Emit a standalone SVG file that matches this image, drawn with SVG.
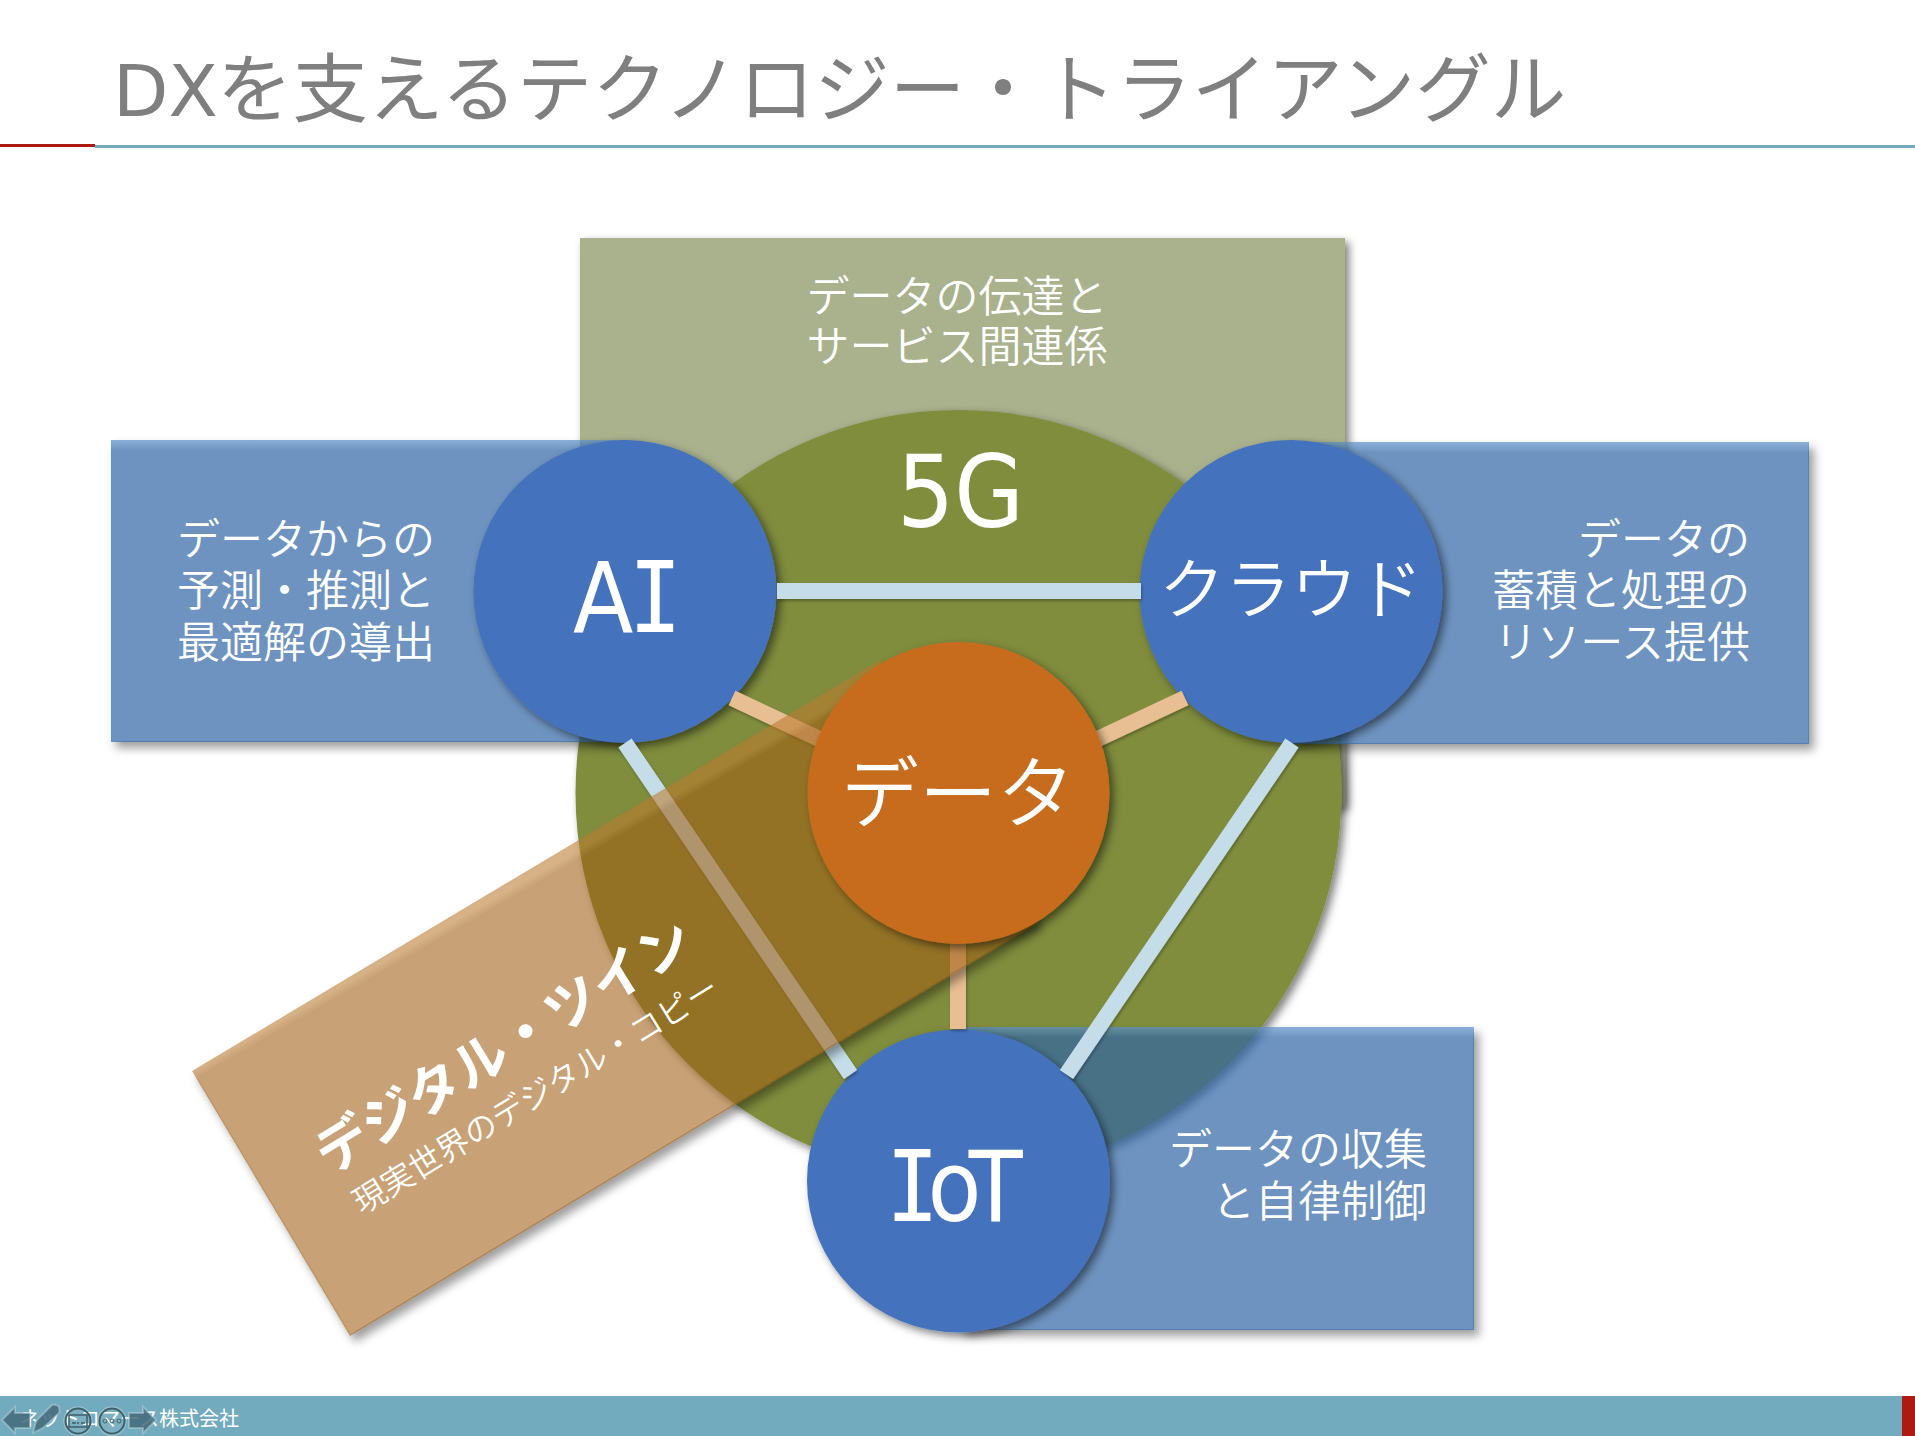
<svg xmlns="http://www.w3.org/2000/svg" width="1915" height="1436" viewBox="0 0 1915 1436">
<defs>
<filter id="sh" filterUnits="userSpaceOnUse" x="0" y="0" width="1915" height="1436"><feDropShadow dx="4" dy="4" stdDeviation="4" flood-color="#000" flood-opacity="0.5"/></filter>
<filter id="out" filterUnits="userSpaceOnUse" x="0" y="0" width="1915" height="1436">
<feComponentTransfer in="SourceAlpha" result="o"><feFuncA type="linear" slope="1.8"/></feComponentTransfer>
<feOffset in="o" dx="5" dy="6"/><feGaussianBlur stdDeviation="5" result="b"/>
<feFlood flood-color="#000" flood-opacity="0.38"/><feComposite in2="b" operator="in" result="s"/>
<feMorphology in="o" operator="erode" radius="1" result="e"/>
<feComposite in="s" in2="e" operator="out" result="s2"/>
<feMerge><feMergeNode in="s2"/><feMergeNode in="SourceGraphic"/></feMerge>
</filter>
<filter id="ln" filterUnits="userSpaceOnUse" x="0" y="0" width="1915" height="1436"><feDropShadow dx="1" dy="2" stdDeviation="1.5" flood-color="#000" flood-opacity="0.3"/></filter>
<linearGradient id="gb" x1="0" y1="0" x2="0" y2="1"><stop offset="0" stop-color="#5a8fca"/><stop offset="0.035" stop-color="#3166a5"/></linearGradient>
<linearGradient id="gt" gradientUnits="userSpaceOnUse" x1="192" y1="1071" x2="196" y2="1078"><stop offset="0" stop-color="#bb7a30"/><stop offset="1" stop-color="#a05f15"/></linearGradient>
</defs>
<style>
text{font-family:"Noto Sans CJK JP","Noto Sans",sans-serif;fill:#fff}
.lbl{font-size:43px;font-weight:350}
.lat{font-family:"DejaVu Sans",sans-serif}
.mono{font-family:"DejaVu Sans Mono",monospace}
.big{font-size:98px}
.blue{fill:url(#gb);fill-opacity:.7;filter:url(#out)}
.c{fill:#4472bd;filter:url(#sh)}
.lb{stroke:#c5dde8;stroke-width:16;fill:none}
.lo{stroke:#e8bf93;stroke-width:16;fill:none}
.ic{fill:#43697a;fill-opacity:.85;stroke:#cfe3ea;stroke-opacity:.4;stroke-width:2}
.ir{fill:#fff;fill-opacity:.08;stroke:#3f5f6a;stroke-width:2}
.io{fill:none;stroke:#cfe3ea;stroke-opacity:.4;stroke-width:1.5}
</style>
<rect width="1915" height="1436" fill="#fff"/>
<g id="title"><text y="116" font-size="75.5" style="fill:#7f7f7f"><tspan x="113" class="lat" font-size="72">DX</tspan><tspan x="217">を支えるテクノロジー・トライアングル</tspan></text>
<rect x="0" y="144" width="95" height="3" fill="#ae1a12"/><rect x="95" y="145" width="1820" height="3" fill="#72abbd"/></g>
<g id="box-5g"><rect x="580" y="238" width="765" height="569" fill="#a9b18d" filter="url(#sh)"/></g>
<g id="big-5g"><circle cx="958.5" cy="793" r="383" fill="#808d3e" filter="url(#sh)"/><text class="lat" font-size="100" transform="translate(897,527) scale(.9,1)">5G</text>
<text x="957" y="312" text-anchor="middle" class="lbl">データの伝達と</text><text x="957" y="362" text-anchor="middle" class="lbl">サービス間連係</text></g>
<g id="box-ai"><rect x="111" y="440" width="520" height="302" class="blue"/><text x="435" y="555" text-anchor="end" class="lbl">データからの</text><text x="435" y="606" text-anchor="end" class="lbl">予測・推測と</text><text x="435" y="658" text-anchor="end" class="lbl">最適解の導出</text></g>
<g id="box-cloud"><rect x="1290" y="442" width="519" height="302" class="blue"/><text x="1750" y="555" text-anchor="end" class="lbl">データの</text><text x="1750" y="606" text-anchor="end" class="lbl">蓄積と処理の</text><text x="1750" y="658" text-anchor="end" class="lbl">リソース提供</text></g>
<g id="box-iot"><rect x="960" y="1027" width="514" height="303" class="blue"/><text x="1427" y="1165" text-anchor="end" class="lbl">データの収集</text><text x="1427" y="1217" text-anchor="end" class="lbl">と自律制御</text></g>
<g id="node-ai"><circle cx="625" cy="591.5" r="151.5" class="c"/><text class="big" transform="translate(573,632) scale(.9,1)"><tspan x="0" class="lat">A</tspan><tspan x="62" class="mono">I</tspan></text></g>
<g id="node-cloud"><circle cx="1291" cy="591.5" r="151.5" class="c"/><text x="1291" y="613" text-anchor="middle" font-size="66" font-weight="350">クラウド</text></g>
<g id="node-iot"><circle cx="958.5" cy="1181" r="151.5" class="c"/><text class="big" transform="translate(886,1221) scale(.9,1)"><tspan x="0" class="mono">I</tspan><tspan x="46" class="lat">o</tspan><tspan x="92" class="lat">T</tspan></text></g>
<g id="connectors" filter="url(#ln)">
<path class="lb" d="M777 591H1141M625 743L850.5 1074.5M1292 743L1066.5 1074.5"/>
<path class="lo" d="M732 698L830 744M1185 698L1087 744M958 900V1029"/>
</g>
<g id="twin"><polygon points="192,1071 350,1336 1038,923 880,660" fill="url(#gt)" fill-opacity="0.58" filter="url(#out)"/>
<text transform="translate(330,1175) rotate(-31.5)" font-size="54" font-weight="700">デジタル・ツイン</text>
<text transform="translate(362,1215) rotate(-31.5)" font-size="32.5" font-weight="350">現実世界のデジタル・コピー</text></g>
<g id="node-data"><circle cx="958.5" cy="793" r="151" fill="#c66c1c" filter="url(#sh)"/><text x="958" y="822" text-anchor="middle" font-size="78" font-weight="350">データ</text></g>
<g id="footer"><rect y="1396" width="1915" height="40" fill="#72abbd"/><rect x="1902" y="1396" width="13" height="40" fill="#ae1a12"/><text x="20" y="1426" font-size="20">ネットコマース株式会社</text>
<g id="viewer-controls">
<path class="ic" d="M2 1420L15 1407V1413H30V1428H15V1433Z"/>
<path class="ic" d="M33 1433L36 1421L52 1405Q57 1404 59 1407Q60 1411 59 1413L43 1428Z"/>
<circle cx="78" cy="1421" r="14" class="io"/><circle cx="78" cy="1421" r="12.5" class="ir"/>
<rect x="69" y="1415" width="18" height="12" fill="none" stroke="#3f5f6a" stroke-width="1.5"/><path d="M72 1423h4M77 1423h2M81 1423h4" stroke="#3f5f6a" stroke-width="1.5"/>
<circle cx="112" cy="1421" r="14" class="io"/><circle cx="112" cy="1421" r="12.5" class="ir"/>
<circle cx="105" cy="1421" r="2" fill="none" stroke="#3f5f6a"/><circle cx="112" cy="1421" r="2" fill="none" stroke="#3f5f6a"/><circle cx="119" cy="1421" r="2" fill="none" stroke="#3f5f6a"/>
<path class="ic" d="M156 1420L143 1407V1413H129V1428H143V1433Z"/>
</g></g>
</svg>
